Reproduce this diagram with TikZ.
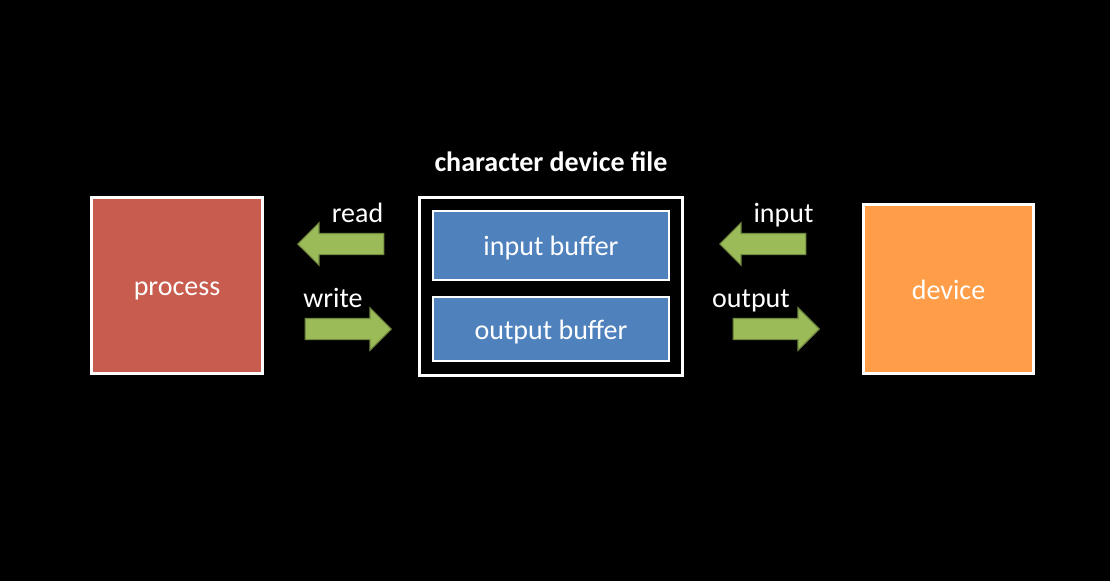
\documentclass[tikz,border=0pt]{standalone}
\usepackage{fontspec}
\setmainfont{Carlito}
\usetikzlibrary{shapes.arrows}
\definecolor{procred}{RGB}{200,92,78}
\definecolor{devorange}{RGB}{255,157,72}
\definecolor{bufblue}{RGB}{79,129,189}
\definecolor{arrgreen}{RGB}{155,187,89}
\definecolor{arrline}{RGB}{113,137,63}
\begin{document}
\begin{tikzpicture}[x=1pt,y=-1pt,
  box/.style={draw=white,line width=3pt,rectangle,inner sep=0pt,text=white,
    font=\fontsize{28}{30}\selectfont,text height=20pt,text depth=0pt},
  buf/.style={box,fill=bufblue,line width=2.5pt,minimum width=236pt},
  blockarrow/.style={single arrow,draw=arrline,fill=arrgreen,line width=1.2pt,
    inner xsep=0pt,inner ysep=10pt,single arrow head extend=10.5pt,
    minimum height=86pt},
  lbl/.style={text=white,inner sep=0pt,anchor=base,font=\fontsize{28}{30}\selectfont}]
\fill[black] (0,0) rectangle (1110,581);
\useasboundingbox (0,0) rectangle (1110,581);
\node[box,fill=procred,minimum width=171pt,minimum height=176pt] (process) at (177,285.5) {process};
\node[box,fill=devorange,minimum width=170pt,minimum height=169pt] (device) at (948.5,289) {device};
\node[box,fill=black,minimum width=263pt,minimum height=178pt] (chardev) at (551,286.5) {};
\node[lbl,font=\fontsize{28}{30}\selectfont\bfseries] (chardevlbl) at (551,171) {character device file};
\node[buf,minimum height=69pt] (inbuf) at (551,245.5) {input buffer};
\node[buf,minimum height=64pt] (outbuf) at (551,329) {output buffer};
\node[blockarrow,shape border rotate=180,anchor=tip] (readarrow) at (297,244) {};
\node[blockarrow,anchor=tip] (writearrow) at (392,329) {};
\node[blockarrow,shape border rotate=180,anchor=tip] (inarrow) at (719,244) {};
\node[blockarrow,anchor=tip] (outarrow) at (820,329) {};
\node[lbl] (readlbl) at (357.5,222) {read};
\node[lbl] (writelbl) at (333,307) {write};
\node[lbl] (inlbl) at (783.5,222) {input};
\node[lbl] (outlbl) at (751,307) {output};
\end{tikzpicture}
\end{document}
